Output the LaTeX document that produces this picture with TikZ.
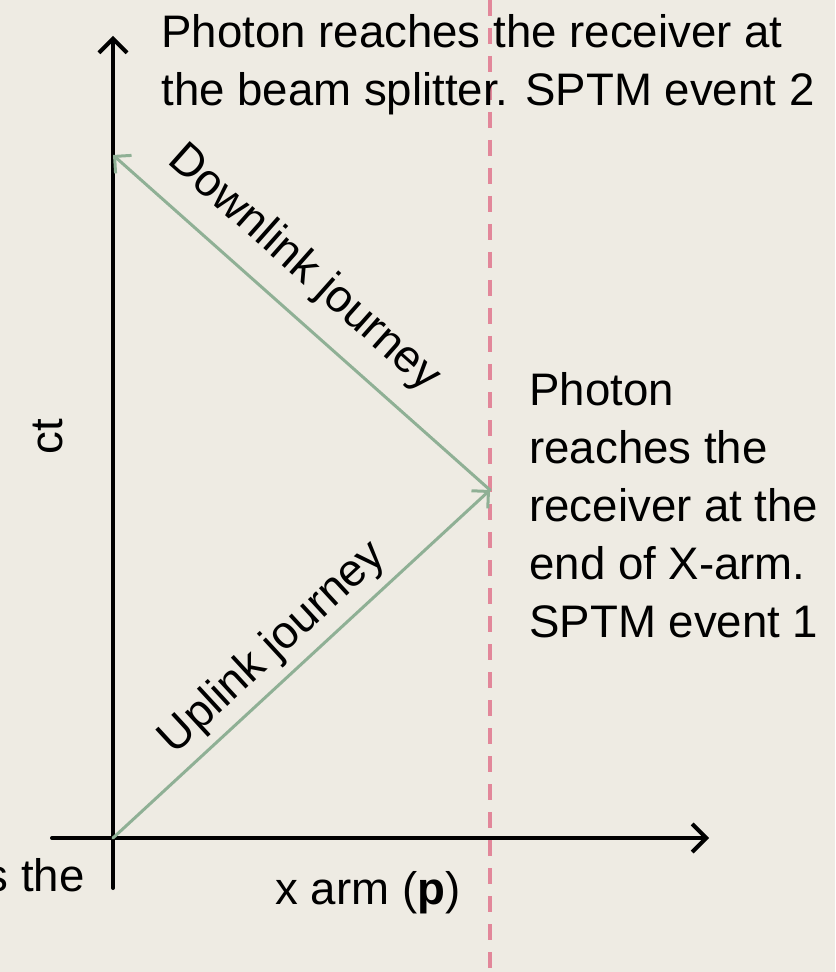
\documentclass[tikz,border=0pt]{standalone}
\usepackage{fontspec}
\setmainfont{Liberation Sans}
\usetikzlibrary{arrows.meta}
\definecolor{bg}{HTML}{EEEBE3}
\definecolor{ray}{HTML}{8FB095}
\definecolor{arm}{HTML}{E2879A}
\tikzset{
  axis/.style={line width=2pt,-{Straight Barb[length=7pt,width=14pt,line width=2pt]}},
  journey/.style={ray,line width=1.5pt,-{Straight Barb[length=6pt,width=12pt,line width=1.5pt]}},
  lbl/.style={text=black,font=\fontsize{22.8}{29}\selectfont,inner sep=0pt}
}
\begin{document}
\begin{tikzpicture}[x=0.5pt,y=-0.5pt,line cap=round,line join=round]
  \fill[bg] (0,0) rectangle (835,972);
  \useasboundingbox (0,0) rectangle (835,972);
  \coordinate (O) at (113,838); \coordinate (E1) at (490,490); \coordinate (E2) at (113,155);
  \coordinate (Ybot) at (113,888); \coordinate (Ytop) at (113,36);
  \coordinate (Xleft) at (52,838); \coordinate (Xright) at (709,838);
  \draw[arm,line width=1.8pt,line cap=butt,dash pattern=on 8pt off 6pt] (490,0)--(490,972);
  \draw[axis] (Ybot)--(Ytop); \draw[axis] (Xleft)--(Xright);
  \draw[journey] (O)--node[lbl,sloped,above=4pt,pos=.48] {Uplink journey}(E1);
  \draw[journey] (E1)--node[lbl,sloped,above=9.5pt,pos=.567] {Downlink journey}(E2);
  \node[lbl,rotate=90] (ct) at (48,437) {ct};
  \node[lbl] (xarm) at (368,893) {x arm (\textbf{p})};
  \node[lbl,anchor=east] (cut) at (85,875) {s the};
  \node[lbl,anchor=north west,align=left] (ev2) at (161,14) {Photon reaches the receiver at\\the beam splitter. SPTM event 2};
  \node[lbl,anchor=north west,align=left] (ev1) at (529,372) {Photon\\reaches the\\receiver at the\\end of X-arm.\\SPTM event 1};
\end{tikzpicture}
\end{document}
